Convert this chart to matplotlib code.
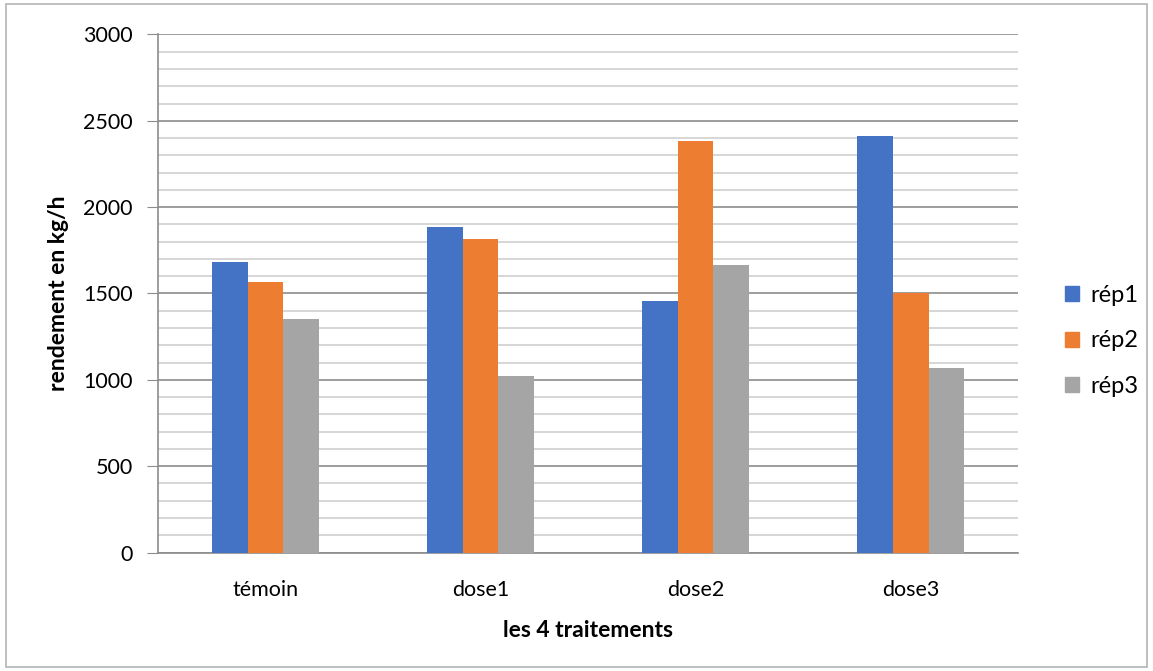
import numpy as np
import matplotlib.pyplot as plt
from matplotlib.patches import Rectangle, Patch
from matplotlib.ticker import MultipleLocator

plt.rcParams['font.family'] = ['Lato', 'DejaVu Sans']

traitements = ['témoin', 'dose1', 'dose2', 'dose3']
rep1 = [1684, 1883, 1455, 2412]
rep2 = [1568, 1813, 2381, 1501]
rep3 = [1354, 1020, 1665, 1068]
series = ['rép1', 'rép2', 'rép3']
colors = ['#4472C4', '#ED7D31', '#A5A5A5']

fig = plt.figure(figsize=(11.53, 6.71), dpi=100)
ax = fig.add_axes([0.137, 0.1766, 0.746, 0.772])

index = np.arange(len(traitements))
bar_width = 0.5 / 3

for i, (vals, col) in enumerate(zip([rep1, rep2, rep3], colors)):
    ax.bar(index + (i - 1) * bar_width, vals, bar_width, color=col,
           zorder=3, label=series[i])

ax.set_xlim(-0.5, len(traitements) - 0.5)
ax.set_ylim(0, 3000)
ax.yaxis.set_major_locator(MultipleLocator(500))
ax.yaxis.set_minor_locator(MultipleLocator(100))
ax.grid(which='major', axis='y', color='#8c8c8c', linewidth=1.2, zorder=0)
ax.grid(which='minor', axis='y', color='#d0d0d0', linewidth=1.2, zorder=0)
ax.grid(which='major', axis='x', visible=False)

ax.set_xticks(index)
ax.set_xticklabels(traitements)
ax.tick_params(axis='x', length=0, labelsize=15.5, pad=20)
ax.tick_params(axis='y', which='major', length=8, color='#8c8c8c',
               labelsize=15.5, pad=10)
ax.tick_params(axis='y', which='minor', length=0)

for side in ['top', 'right']:
    ax.spines[side].set_visible(False)
ax.spines['left'].set_color('#8c8c8c')
ax.spines['bottom'].set_color('#8c8c8c')
ax.spines['left'].set_linewidth(1.2)
ax.spines['bottom'].set_linewidth(1.2)

ax.set_ylabel('rendement en kg/h', fontsize=16.5, fontweight='bold', labelpad=10)
ax.set_xlabel('les 4 traitements', fontsize=16.5, fontweight='bold', labelpad=14)

handles = [Patch(color=c, label=s) for c, s in zip(colors, series)]
fig.legend(handles=handles, loc='center left', bbox_to_anchor=(0.905, 0.492),
           frameon=False, fontsize=17, handlelength=0.6, handleheight=0.6,
           handletextpad=0.5, labelspacing=1.05)

# chart border
fig.patches.append(Rectangle((0.005, 0.006), 0.99, 0.988,
                             transform=fig.transFigure, fill=False,
                             edgecolor='#b4b4b4', linewidth=1.2))

fig.savefig('out.png', dpi=100)
